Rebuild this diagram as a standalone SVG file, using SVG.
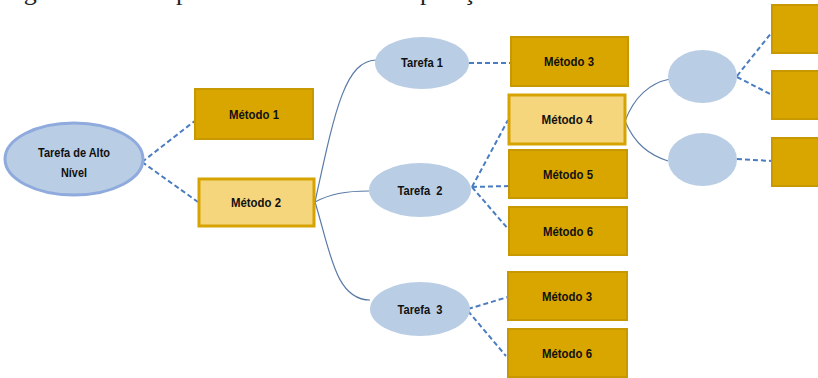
<svg xmlns="http://www.w3.org/2000/svg" width="818" height="378" viewBox="0 0 818 378">
<defs>
<style>
.dark{fill:#D9A600;stroke:#C89800;stroke-width:2}
.light{fill:#F6D67C;stroke:#D6A300;stroke-width:3}
.ell{fill:#B9CDE5}
.top{fill:#B9CDE5;stroke:#8FAADC;stroke-width:3}
.dash{fill:none;stroke:#4A7CC2;stroke-width:2;stroke-dasharray:5 3}
.solid{fill:none;stroke:#5A7BA6;stroke-width:1.2}
.lbl{font-family:"Liberation Sans",Arial,sans-serif;font-weight:bold;font-size:13.5px;fill:#111;text-anchor:middle}
.cap{font-family:"Liberation Serif","Times New Roman",serif;font-size:26px;fill:#222}
</style>
</defs>
<rect width="818" height="378" fill="#fff"/>
<text class="cap" x="2" y="0">Figura 1 – Exemplo de árvore de decomposição de tarefa</text>
<g id="connectors">
<path class="dash" d="M142,162 L196,120"/>
<path class="dash" d="M142,162 L198,202"/>
<path class="solid" d="M315,202 C335,110 345,60 377,60"/>
<path class="solid" d="M315,202 C330,194 345,191 369,191"/>
<path class="solid" d="M315,202 C330,250 335,300 370,300"/>
<path class="dash" d="M469,63 L511,63"/>
<path class="dash" d="M472,187 L508,120"/>
<path class="dash" d="M472,187 L509,186"/>
<path class="dash" d="M472,187 L509,230"/>
<path class="dash" d="M468,309 L508,297"/>
<path class="dash" d="M468,311 L506,356"/>
<path class="solid" d="M625,121 C635,95 650,83 670,79"/>
<path class="solid" d="M625,121 C635,145 650,155 668,161"/>
<path class="dash" d="M737,76 L772,32"/>
<path class="dash" d="M737,77 L772,95"/>
<path class="dash" d="M737,159 L772,161"/>
</g>
<g id="tarefa-alto">
<ellipse class="top" cx="74" cy="159" rx="69" ry="36"/>
<text class="lbl" x="74" y="157" textLength="72" lengthAdjust="spacingAndGlyphs">Tarefa de Alto</text>
<text class="lbl" x="74" y="177" textLength="26" lengthAdjust="spacingAndGlyphs">Nível</text>
</g>
<g id="metodo1">
<rect class="dark" x="195" y="89" width="118" height="50"/>
<text class="lbl" x="254" y="119" textLength="50" lengthAdjust="spacingAndGlyphs">Método 1</text>
</g>
<g id="metodo2">
<rect class="light" x="199" y="179" width="115" height="47"/>
<text class="lbl" x="256" y="207" textLength="50" lengthAdjust="spacingAndGlyphs">Método 2</text>
</g>
<g id="tarefa1">
<ellipse class="ell" cx="422" cy="63" rx="47" ry="26"/>
<text class="lbl" x="422" y="67" textLength="42" lengthAdjust="spacingAndGlyphs">Tarefa 1</text>
</g>
<g id="tarefa2">
<ellipse class="ell" cx="420" cy="190" rx="51" ry="27"/>
<text class="lbl" x="420" y="195" textLength="45" lengthAdjust="spacingAndGlyphs" xml:space="preserve">Tarefa  2</text>
</g>
<g id="tarefa3">
<ellipse class="ell" cx="420" cy="309" rx="50" ry="27"/>
<text class="lbl" x="420" y="314" textLength="45" lengthAdjust="spacingAndGlyphs" xml:space="preserve">Tarefa  3</text>
</g>
<g id="metodo3a">
<rect class="dark" x="511" y="37" width="117" height="49"/>
<text class="lbl" x="569" y="66" textLength="50" lengthAdjust="spacingAndGlyphs">Método 3</text>
</g>
<g id="metodo4">
<rect class="light" x="509" y="95" width="116" height="49"/>
<text class="lbl" x="567" y="124" textLength="51" lengthAdjust="spacingAndGlyphs">Método 4</text>
</g>
<g id="metodo5">
<rect class="dark" x="509" y="150" width="118" height="48"/>
<text class="lbl" x="568" y="179" textLength="50" lengthAdjust="spacingAndGlyphs">Método 5</text>
</g>
<g id="metodo6a">
<rect class="dark" x="509" y="207" width="118" height="48"/>
<text class="lbl" x="568" y="236" textLength="50" lengthAdjust="spacingAndGlyphs">Método 6</text>
</g>
<g id="metodo3b">
<rect class="dark" x="508" y="272" width="119" height="48"/>
<text class="lbl" x="567" y="301" textLength="50" lengthAdjust="spacingAndGlyphs">Método 3</text>
</g>
<g id="metodo6b">
<rect class="dark" x="508" y="329" width="119" height="48"/>
<text class="lbl" x="567" y="358" textLength="50" lengthAdjust="spacingAndGlyphs">Método 6</text>
</g>
<g id="sub-a">
<ellipse class="ell" cx="702.5" cy="76.5" rx="34.5" ry="26.5"/>
</g>
<g id="sub-b">
<ellipse class="ell" cx="702.5" cy="159.5" rx="34.5" ry="26.5"/>
</g>
<g id="box-r1">
<rect class="dark" x="772" y="5" width="60" height="48"/>
</g>
<g id="box-r2">
<rect class="dark" x="772" y="71" width="60" height="48"/>
</g>
<g id="box-r3">
<rect class="dark" x="772" y="138" width="60" height="48"/>
</g>
</svg>
